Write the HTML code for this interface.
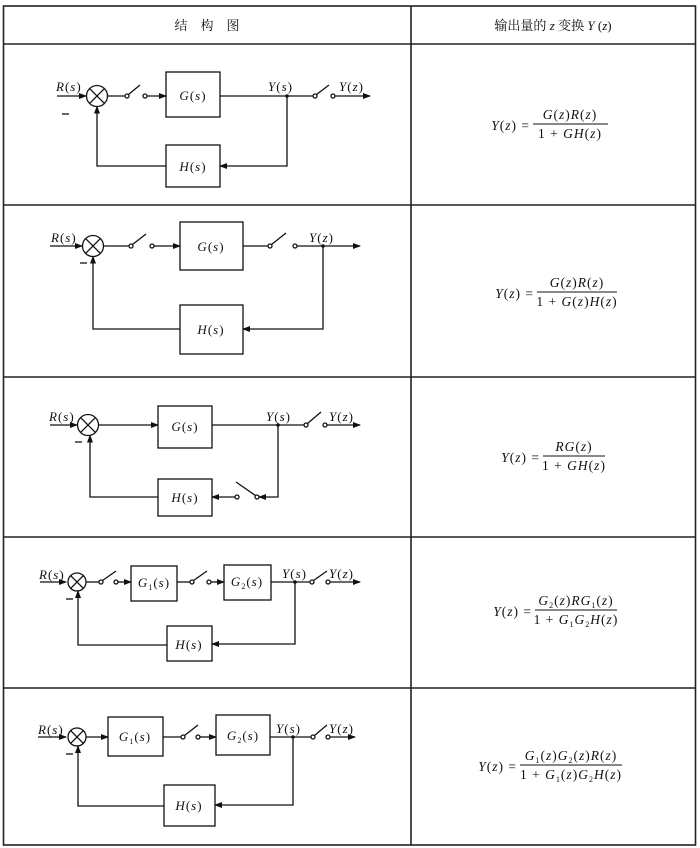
<!DOCTYPE html>
<html><head><meta charset="utf-8"><style>
html,body{margin:0;padding:0;background:#fff}
svg{display:block}
text{font-family:"Liberation Serif","Noto Serif CJK SC",serif;fill:#111}
.i{font-style:italic}
.lb text{letter-spacing:1px}
.fm text{letter-spacing:1px}
</style></head><body>
<svg width="700" height="848" viewBox="0 0 700 848" xmlns="http://www.w3.org/2000/svg">
<defs><marker id="a" markerWidth="8" markerHeight="6" refX="7" refY="3" orient="auto" markerUnits="userSpaceOnUse"><path d="M0,0 L8,3 L0,6 z" fill="#111"/></marker></defs>
<g stroke="#222" stroke-width="1.6" fill="none">
<rect x="3.5" y="6" width="692" height="839"/>
<line x1="411" y1="6" x2="411" y2="845"/>
<line x1="3" y1="44" x2="696" y2="44"/>
<line x1="3" y1="205" x2="696" y2="205"/>
<line x1="3" y1="377" x2="696" y2="377"/>
<line x1="3" y1="537" x2="696" y2="537"/>
<line x1="3" y1="688" x2="696" y2="688"/>
</g>
<text x="207" y="30" text-anchor="middle" font-size="13" font-family="Noto Serif CJK SC,serif">结　构　图</text>
<text x="553" y="30" text-anchor="middle" font-size="13"><tspan font-family="Noto Serif CJK SC,serif">输出量的 </tspan><tspan class="i">z</tspan><tspan font-family="Noto Serif CJK SC,serif"> 变换 </tspan><tspan class="i">Y</tspan> (<tspan class="i">z</tspan>)</text>

<g stroke="#111" stroke-width="1.3" fill="none">
<line x1="57" y1="96" x2="86" y2="96" marker-end="url(#a)"/>
<circle cx="97" cy="96" r="10.5"/><line x1="89.6" y1="88.6" x2="104.4" y2="103.4"/><line x1="104.4" y1="88.6" x2="89.6" y2="103.4"/>
<line x1="107.5" y1="96" x2="125" y2="96"/>
<circle cx="127" cy="96" r="2"/><line x1="128.5" y1="94.5" x2="140" y2="85"/><circle cx="145" cy="96" r="2"/>
<line x1="147" y1="96" x2="166" y2="96" marker-end="url(#a)"/>
<rect x="166" y="72" width="54" height="45"/>
<line x1="220" y1="96" x2="313" y2="96"/>
<circle cx="315" cy="96" r="2"/><line x1="316.5" y1="94.5" x2="329" y2="85"/><circle cx="333" cy="96" r="2"/>
<line x1="335" y1="96" x2="370" y2="96" marker-end="url(#a)"/>
<polyline points="287,96 287,166 220,166" marker-end="url(#a)"/>
<rect x="166" y="145" width="54" height="42"/>
<polyline points="166,166 97,166 97,106.5" marker-end="url(#a)"/>

<line x1="50" y1="246" x2="82" y2="246" marker-end="url(#a)"/>
<circle cx="93" cy="246" r="10.5"/><line x1="85.6" y1="238.6" x2="100.4" y2="253.4"/><line x1="100.4" y1="238.6" x2="85.6" y2="253.4"/>
<line x1="103.5" y1="246" x2="129" y2="246"/>
<circle cx="131" cy="246" r="2"/><line x1="132.5" y1="244.5" x2="146" y2="234"/><circle cx="152" cy="246" r="2"/>
<line x1="154" y1="246" x2="180" y2="246" marker-end="url(#a)"/>
<rect x="180" y="222" width="63" height="48"/>
<line x1="243" y1="246" x2="268" y2="246"/>
<circle cx="270" cy="246" r="2"/><line x1="271.5" y1="244.5" x2="286" y2="233"/><circle cx="295" cy="246" r="2"/>
<line x1="297" y1="246" x2="360" y2="246" marker-end="url(#a)"/>
<polyline points="323,246 323,329 243,329" marker-end="url(#a)"/>
<rect x="180" y="305" width="63" height="49"/>
<polyline points="180,329 93,329 93,256.5" marker-end="url(#a)"/>

<line x1="50" y1="425" x2="77" y2="425" marker-end="url(#a)"/>
<circle cx="88" cy="425" r="10.5"/><line x1="80.6" y1="417.6" x2="95.4" y2="432.4"/><line x1="95.4" y1="417.6" x2="80.6" y2="432.4"/>
<line x1="98.5" y1="425" x2="158" y2="425" marker-end="url(#a)"/>
<rect x="158" y="406" width="54" height="42"/>
<line x1="212" y1="425" x2="304" y2="425"/>
<circle cx="306" cy="425" r="2"/><line x1="307.5" y1="423.5" x2="321" y2="412"/><circle cx="325" cy="425" r="2"/>
<line x1="327" y1="425" x2="360" y2="425" marker-end="url(#a)"/>
<polyline points="278,425 278,497 259,497" marker-end="url(#a)"/>
<circle cx="257" cy="497" r="2"/><line x1="255.5" y1="495.5" x2="236" y2="482"/><circle cx="237" cy="497" r="2"/>
<line x1="235" y1="497" x2="212" y2="497" marker-end="url(#a)"/>
<rect x="158" y="479" width="54" height="37"/>
<polyline points="158,497 90,497 90,435.5" marker-end="url(#a)"/>

<line x1="40" y1="582" x2="66" y2="582" marker-end="url(#a)"/>
<circle cx="77" cy="582" r="9"/><line x1="70.6" y1="575.6" x2="83.4" y2="588.4"/><line x1="83.4" y1="575.6" x2="70.6" y2="588.4"/>
<line x1="86" y1="582" x2="99" y2="582"/>
<circle cx="101" cy="582" r="2"/><line x1="102.5" y1="580.5" x2="116" y2="571"/><circle cx="116" cy="582" r="2"/>
<line x1="118" y1="582" x2="131" y2="582" marker-end="url(#a)"/>
<rect x="131" y="566" width="46" height="35"/>
<line x1="177" y1="582" x2="190" y2="582"/>
<circle cx="192" cy="582" r="2"/><line x1="193.5" y1="580.5" x2="207" y2="571"/><circle cx="209" cy="582" r="2"/>
<line x1="211" y1="582" x2="224" y2="582" marker-end="url(#a)"/>
<rect x="224" y="565" width="47" height="35"/>
<line x1="271" y1="582" x2="310" y2="582"/>
<circle cx="312" cy="582" r="2"/><line x1="313.5" y1="580.5" x2="327" y2="571"/><circle cx="328" cy="582" r="2"/>
<line x1="330" y1="582" x2="360" y2="582" marker-end="url(#a)"/>
<polyline points="295,582 295,644 212,644" marker-end="url(#a)"/>
<rect x="167" y="626" width="45" height="35"/>
<polyline points="167,645 78,645 78,591" marker-end="url(#a)"/>

<line x1="38" y1="737" x2="66" y2="737" marker-end="url(#a)"/>
<circle cx="77" cy="737" r="9"/><line x1="70.6" y1="730.6" x2="83.4" y2="743.4"/><line x1="83.4" y1="730.6" x2="70.6" y2="743.4"/>
<line x1="86" y1="737" x2="108" y2="737" marker-end="url(#a)"/>
<rect x="108" y="717" width="55" height="39"/>
<line x1="163" y1="737" x2="181" y2="737"/>
<circle cx="183" cy="737" r="2"/><line x1="184.5" y1="735.5" x2="198" y2="725"/><circle cx="198" cy="737" r="2"/>
<line x1="200" y1="737" x2="216" y2="737" marker-end="url(#a)"/>
<rect x="216" y="715" width="54" height="40"/>
<line x1="270" y1="737" x2="311" y2="737"/>
<circle cx="313" cy="737" r="2"/><line x1="314.5" y1="735.5" x2="327" y2="725"/><circle cx="328" cy="737" r="2"/>
<line x1="330" y1="737" x2="355" y2="737" marker-end="url(#a)"/>
<polyline points="293,737 293,805 215,805" marker-end="url(#a)"/>
<rect x="164" y="785" width="51" height="41"/>
<polyline points="164,806 78,806 78,746" marker-end="url(#a)"/>

<line x1="62" y1="114" x2="69" y2="114"/>
<line x1="80" y1="263" x2="87" y2="263"/>
<line x1="75" y1="442" x2="82" y2="442"/>
<line x1="66" y1="599" x2="73" y2="599"/>
<line x1="66" y1="754" x2="73" y2="754"/>
</g>
<g fill="#111"><circle cx="287" cy="96" r="1.8"/><circle cx="323" cy="246" r="1.8"/><circle cx="278" cy="425" r="1.8"/><circle cx="295" cy="582" r="1.8"/><circle cx="293" cy="737" r="1.8"/></g>

<g font-size="13" class="lb">
<text x="56" y="91"><tspan class="i">R</tspan>(<tspan class="i">s</tspan>)</text>
<text x="193" y="100" text-anchor="middle"><tspan class="i">G</tspan>(<tspan class="i">s</tspan>)</text>
<text x="268" y="91"><tspan class="i">Y</tspan>(<tspan class="i">s</tspan>)</text>
<text x="339" y="91"><tspan class="i">Y</tspan>(<tspan class="i">z</tspan>)</text>
<text x="193" y="171" text-anchor="middle"><tspan class="i">H</tspan>(<tspan class="i">s</tspan>)</text>

<text x="51" y="242"><tspan class="i">R</tspan>(<tspan class="i">s</tspan>)</text>
<text x="211" y="251" text-anchor="middle"><tspan class="i">G</tspan>(<tspan class="i">s</tspan>)</text>
<text x="309" y="242"><tspan class="i">Y</tspan>(<tspan class="i">z</tspan>)</text>
<text x="211" y="334" text-anchor="middle"><tspan class="i">H</tspan>(<tspan class="i">s</tspan>)</text>

<text x="49" y="421"><tspan class="i">R</tspan>(<tspan class="i">s</tspan>)</text>
<text x="185" y="431" text-anchor="middle"><tspan class="i">G</tspan>(<tspan class="i">s</tspan>)</text>
<text x="266" y="421"><tspan class="i">Y</tspan>(<tspan class="i">s</tspan>)</text>
<text x="329" y="421"><tspan class="i">Y</tspan>(<tspan class="i">z</tspan>)</text>
<text x="185" y="502" text-anchor="middle"><tspan class="i">H</tspan>(<tspan class="i">s</tspan>)</text>

<text x="39" y="579"><tspan class="i">R</tspan>(<tspan class="i">s</tspan>)</text>
<text x="154" y="587" text-anchor="middle"><tspan class="i">G</tspan><tspan font-size="8" dy="3">1</tspan><tspan dy="-3">(</tspan><tspan class="i">s</tspan>)</text>
<text x="247" y="586" text-anchor="middle"><tspan class="i">G</tspan><tspan font-size="8" dy="3">2</tspan><tspan dy="-3">(</tspan><tspan class="i">s</tspan>)</text>
<text x="282" y="578"><tspan class="i">Y</tspan>(<tspan class="i">s</tspan>)</text>
<text x="329" y="578"><tspan class="i">Y</tspan>(<tspan class="i">z</tspan>)</text>
<text x="189" y="649" text-anchor="middle"><tspan class="i">H</tspan>(<tspan class="i">s</tspan>)</text>

<text x="38" y="734"><tspan class="i">R</tspan>(<tspan class="i">s</tspan>)</text>
<text x="135" y="741" text-anchor="middle"><tspan class="i">G</tspan><tspan font-size="8" dy="3">1</tspan><tspan dy="-3">(</tspan><tspan class="i">s</tspan>)</text>
<text x="243" y="740" text-anchor="middle"><tspan class="i">G</tspan><tspan font-size="8" dy="3">2</tspan><tspan dy="-3">(</tspan><tspan class="i">s</tspan>)</text>
<text x="276" y="733"><tspan class="i">Y</tspan>(<tspan class="i">s</tspan>)</text>
<text x="329" y="733"><tspan class="i">Y</tspan>(<tspan class="i">z</tspan>)</text>
<text x="189" y="810" text-anchor="middle"><tspan class="i">H</tspan>(<tspan class="i">s</tspan>)</text>
</g>

<g font-size="13.5" class="fm">
<text x="530" y="130" text-anchor="end"><tspan class="i">Y</tspan>(<tspan class="i">z</tspan>) =</text>
<text x="570" y="119" text-anchor="middle"><tspan class="i">G</tspan>(<tspan class="i">z</tspan>)<tspan class="i">R</tspan>(<tspan class="i">z</tspan>)</text>
<text x="570" y="138" text-anchor="middle">1 + <tspan class="i">GH</tspan>(<tspan class="i">z</tspan>)</text>

<text x="534" y="298" text-anchor="end"><tspan class="i">Y</tspan>(<tspan class="i">z</tspan>) =</text>
<text x="577" y="287" text-anchor="middle"><tspan class="i">G</tspan>(<tspan class="i">z</tspan>)<tspan class="i">R</tspan>(<tspan class="i">z</tspan>)</text>
<text x="577" y="306" text-anchor="middle">1 + <tspan class="i">G</tspan>(<tspan class="i">z</tspan>)<tspan class="i">H</tspan>(<tspan class="i">z</tspan>)</text>

<text x="540" y="462" text-anchor="end"><tspan class="i">Y</tspan>(<tspan class="i">z</tspan>) =</text>
<text x="574" y="451" text-anchor="middle"><tspan class="i">RG</tspan>(<tspan class="i">z</tspan>)</text>
<text x="574" y="470" text-anchor="middle">1 + <tspan class="i">GH</tspan>(<tspan class="i">z</tspan>)</text>

<text x="532" y="616" text-anchor="end"><tspan class="i">Y</tspan>(<tspan class="i">z</tspan>) =</text>
<text x="576" y="605" text-anchor="middle"><tspan class="i">G</tspan><tspan font-size="8" dy="3">2</tspan><tspan dy="-3">(</tspan><tspan class="i">z</tspan>)<tspan class="i">RG</tspan><tspan font-size="8" dy="3">1</tspan><tspan dy="-3">(</tspan><tspan class="i">z</tspan>)</text>
<text x="576" y="624" text-anchor="middle">1 + <tspan class="i">G</tspan><tspan font-size="8" dy="3">1</tspan><tspan class="i" dy="-3">G</tspan><tspan font-size="8" dy="3">2</tspan><tspan class="i" dy="-3">H</tspan>(<tspan class="i">z</tspan>)</text>

<text x="517" y="771" text-anchor="end"><tspan class="i">Y</tspan>(<tspan class="i">z</tspan>) =</text>
<text x="571" y="760" text-anchor="middle"><tspan class="i">G</tspan><tspan font-size="8" dy="3">1</tspan><tspan dy="-3">(</tspan><tspan class="i">z</tspan>)<tspan class="i">G</tspan><tspan font-size="8" dy="3">2</tspan><tspan dy="-3">(</tspan><tspan class="i">z</tspan>)<tspan class="i">R</tspan>(<tspan class="i">z</tspan>)</text>
<text x="571" y="779" text-anchor="middle">1 + <tspan class="i">G</tspan><tspan font-size="8" dy="3">1</tspan><tspan dy="-3">(</tspan><tspan class="i">z</tspan>)<tspan class="i">G</tspan><tspan font-size="8" dy="3">2</tspan><tspan class="i" dy="-3">H</tspan>(<tspan class="i">z</tspan>)</text>
</g>
<g stroke="#111" stroke-width="1">
<line x1="533" y1="124" x2="608" y2="124"/>
<line x1="537" y1="292" x2="617" y2="292"/>
<line x1="543" y1="456" x2="605" y2="456"/>
<line x1="535" y1="610" x2="617" y2="610"/>
<line x1="520" y1="765" x2="622" y2="765"/>
</g>
</svg>
</body></html>
